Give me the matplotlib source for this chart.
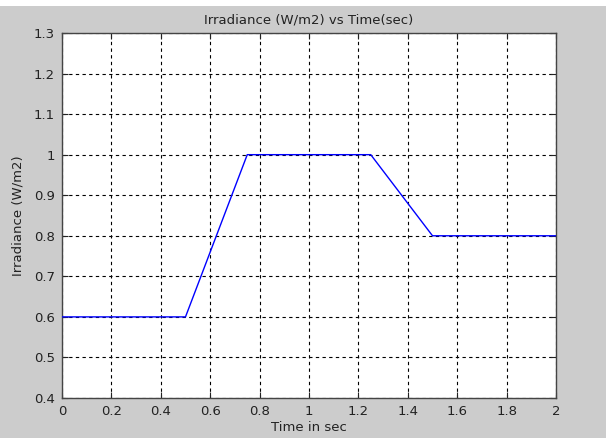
import matplotlib
matplotlib.use("Agg")
import matplotlib.pyplot as plt
from matplotlib.patches import Rectangle

# irradiance profile (W/m2) against time (sec)
time_sec = [0.0, 0.5, 0.75, 1.25, 1.5, 2.0]
irradiance = [0.6, 0.6, 1.0, 1.0, 0.8, 0.8]

x_ticks = [0, 0.2, 0.4, 0.6, 0.8, 1, 1.2, 1.4, 1.6, 1.8, 2]
x_labels = ["0", "0.2", "0.4", "0.6", "0.8", "1", "1.2", "1.4", "1.6", "1.8", "2"]
y_ticks = [0.4, 0.5, 0.6, 0.7, 0.8, 0.9, 1.0, 1.1, 1.2, 1.3]
y_labels = ["0.4", "0.5", "0.6", "0.7", "0.8", "0.9", "1", "1.1", "1.2", "1.3"]

plt.rcParams["font.family"] = ["DejaVu Sans"]
plt.rcParams["font.size"] = 9.5

fig = plt.figure(figsize=(6.06, 4.38), dpi=100, facecolor="#cccccc")
# white strip along the top of the screenshot
fig.patches.append(Rectangle((0, 1 - 6 / 438), 1, 6 / 438, transform=fig.transFigure,
                             facecolor="white", edgecolor="none", zorder=0))

ax = fig.add_axes([62 / 606, 1 - 398 / 438, (556 - 62) / 606, (398 - 33) / 438])
ax.set_facecolor("white")

ax.plot(time_sec, irradiance, color="#0000ff", linewidth=1.0, zorder=3)

ax.set_xlim(0, 2)
ax.set_ylim(0.4, 1.3)
ax.set_xticks(x_ticks)
ax.set_xticklabels(x_labels)
ax.set_yticks(y_ticks)
ax.set_yticklabels(y_labels)

ax.grid(True, color="black", linestyle=(0, (3, 3)), linewidth=0.8)
ax.tick_params(direction="in", length=4, width=0.8, top=True, right=True,
               colors="#222222", labelcolor="#222222", pad=5)
for s in ax.spines.values():
    s.set_color("#444444")
    s.set_linewidth(1.0)

ax.set_title("Irradiance (W/m2) vs Time(sec)", fontsize=9.5, color="#222222", pad=7)
ax.set_xlabel("Time in sec", fontsize=9.5, color="#222222", labelpad=2)
ax.set_ylabel("Irradiance (W/m2)", fontsize=9.5, color="#222222", labelpad=7)

fig.savefig("out.png", dpi=100, facecolor=fig.get_facecolor())
